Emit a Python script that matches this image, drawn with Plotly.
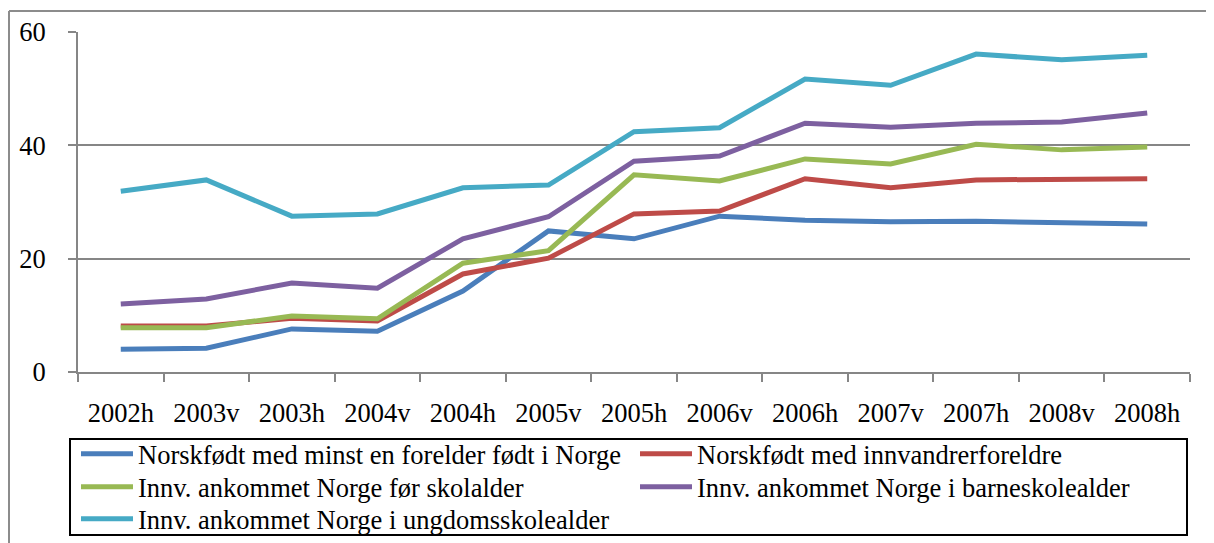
import plotly.graph_objects as go

periods = ["2002h", "2003v", "2003h", "2004v", "2004h", "2005v", "2005h",
           "2006v", "2006h", "2007v", "2007h", "2008v", "2008h"]

norsk_forelder = [4.0, 4.2, 7.6, 7.2, 14.3, 24.9, 23.5, 27.5, 26.8, 26.5, 26.6, 26.3, 26.1]
norsk_innvandrer = [8.1, 8.1, 9.5, 9.0, 17.3, 20.1, 27.9, 28.4, 34.1, 32.5, 33.9, 33.9, 34.1]
for_skolealder = [7.8, 7.8, 9.9, 9.4, 19.2, 21.4, 34.8, 33.7, 37.6, 36.7, 40.2, 39.2, 39.7]
barneskolealder = [12.0, 12.9, 15.7, 14.8, 23.5, 27.4, 37.2, 38.1, 43.9, 43.2, 43.9, 44.1, 45.7]
ungdomsskolealder = [31.9, 33.9, 27.5, 27.9, 32.5, 33.0, 42.4, 43.1, 51.7, 50.6, 56.1, 55.1, 55.9]

names = [
    "Norskfødt med minst en forelder født i Norge",
    "Norskfødt med innvandrerforeldre",
    "Innv. ankommet Norge før skolalder",
    "Innv. ankommet Norge i barneskolealder",
    "Innv. ankommet Norge i ungdomsskolealder",
]
values = [norsk_forelder, norsk_innvandrer, for_skolealder, barneskolealder, ungdomsskolealder]
colors = ["#4A7EBB", "#BE4B48", "#98B954", "#7D60A0", "#46AAC5"]

FONT = "Liberation Serif, Times New Roman, serif"
FS = 26.5
# siden har 8 px marg rundt figuren, så alt er forskjøvet 8 px
W, H = 1206, 535
L, R, T, B = 70, 24, 24, 171
pw, ph = W - L - R, H - T - B


def px_x(x):
    return (x - L) / pw


def px_y(y):
    return (H - B - y) / ph


# én legende per oppføring: (kolonne x, rad y) i piksler
legend_pos = [(68, 446), (627, 446), (68, 479), (627, 479), (68, 511)]
legend_ids = ["legend"] + [f"legend{i}" for i in range(2, 6)]

fig = go.Figure()
for name, vals, col, leg in zip(names, values, colors, legend_ids):
    fig.add_trace(go.Scatter(
        x=periods, y=vals, name=name, mode="lines",
        line=dict(color=col, width=5),
        legend=leg,
    ))

# ramme rundt diagramområdet (topp og venstre kant)
fig.add_shape(type="line", xref="paper", yref="paper", x0=px_x(1), x1=px_x(W),
              y0=px_y(3), y1=px_y(3), line=dict(color="#8C8C8C", width=2))
fig.add_shape(type="line", xref="paper", yref="paper", x0=px_x(1), x1=px_x(1),
              y0=px_y(3), y1=px_y(H), line=dict(color="#8C8C8C", width=2))
# legendeboks
fig.add_shape(type="rect", xref="paper", yref="paper", x0=px_x(62), x1=px_x(1179),
              y0=px_y(431), y1=px_y(527), line=dict(color="black", width=2))

legends = {}
for leg, (lx, ly) in zip(legend_ids, legend_pos):
    legends[leg] = dict(
        x=px_x(lx), y=px_y(ly), xanchor="left", yanchor="middle",
        orientation="v", bgcolor="rgba(0,0,0,0)", borderwidth=0,
        itemwidth=52, font=dict(family=FONT, size=FS, color="black"),
    )

fig.update_layout(
    width=W, height=H,
    margin=dict(l=L, r=R, t=T, b=B, autoexpand=False),
    paper_bgcolor="white", plot_bgcolor="white",
    font=dict(family=FONT, size=FS, color="black"),
    showlegend=True,
    **legends,
)
fig.update_xaxes(
    type="category", tickson="boundaries", range=[-0.5, len(periods) - 0.5],
    showline=True, linecolor="#868686", linewidth=2,
    ticks="outside", ticklen=8, tickcolor="#868686", tickwidth=2,
    ticklabelstandoff=16, showgrid=False,
)
fig.update_yaxes(
    range=[0, 60], dtick=20,
    showline=True, linecolor="#868686", linewidth=2,
    ticks="outside", ticklen=8, tickcolor="#868686", tickwidth=2,
    ticklabelstandoff=17,
    showgrid=True, gridcolor="#868686", gridwidth=2, zeroline=False,
)

fig.write_html("out.html")
